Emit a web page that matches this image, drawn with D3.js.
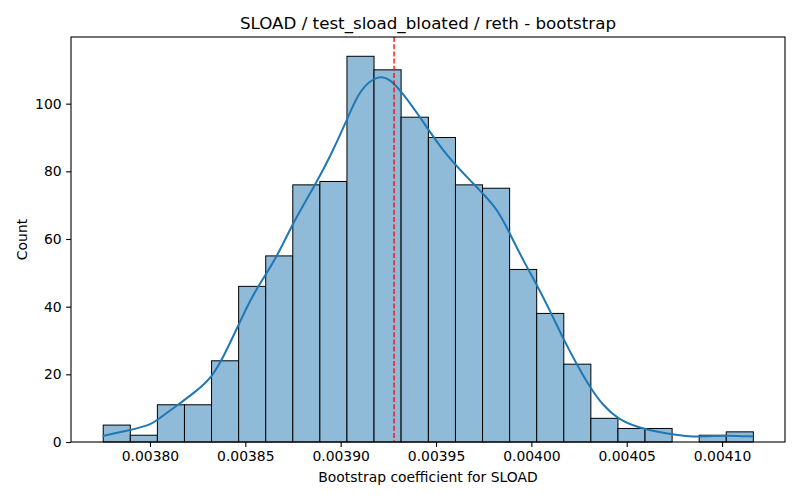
<!DOCTYPE html>
<html>
<head>
<meta charset="utf-8">
<script src="https://cdn.jsdelivr.net/npm/d3@7"></script>
<style>
  body { margin: 0; background: #fff; }
  text { font-family: "DejaVu Sans", sans-serif; fill: #000; }
</style>
</head>
<body>
<svg id="chart" width="800" height="500"></svg>
<script>
// histogram bins (edges) and counts
var binEdges = [0.0037755, 0.0037897, 0.0038039, 0.0038181, 0.0038323, 0.0038465,
  0.0038607, 0.0038749, 0.0038891, 0.0039033, 0.0039175, 0.0039317, 0.0039460,
  0.0039602, 0.0039744, 0.0039886, 0.0040028, 0.0040170, 0.0040312, 0.0040454,
  0.0040596, 0.0040738, 0.0040880, 0.0041022, 0.0041164];
var counts = [5, 2, 11, 11, 24, 46, 55, 76, 77, 114, 110, 96, 90, 76, 75, 51, 38, 23, 7, 4, 4, 0, 2, 3];

// kde curve (count units)
var kdeX = [0.0037752, 0.0037895, 0.0038000, 0.0038035, 0.0038140, 0.0038245, 0.0038324,
  0.0038384, 0.0038463, 0.0038524, 0.0038586, 0.0038665, 0.0038752, 0.0038865, 0.0038944,
  0.0039035, 0.0039101, 0.0039203, 0.0039259, 0.0039320, 0.0039416, 0.0039538, 0.0039678,
  0.0039818, 0.0039879, 0.0039958, 0.0040028, 0.0040098, 0.0040168, 0.0040238, 0.0040308,
  0.0040377, 0.0040456, 0.0040553, 0.0040675, 0.0040815, 0.0040920, 0.0041025, 0.0041164];
var kdeY = [1.8, 3.5, 5.0, 6.4, 10.7, 15.1, 19.1,
  25.0, 34.4, 41.8, 47.7, 54.6, 65.0, 75.9, 84.2,
  95.4, 104.5, 108.6, 107.2, 103.5, 96.1, 85.7, 77.3,
  69.4, 62.5, 53.6, 46.5, 38.8, 30.4, 23.0, 16.1,
  10.7, 6.7, 4.4, 2.8, 1.6, 1.6, 2.0, 1.6];

var meanValue = 0.003928;
var xTicks = [0.00380, 0.00385, 0.00390, 0.00395, 0.00400, 0.00405, 0.00410];
var yTicks = [0, 20, 40, 60, 80, 100];

var titleText = "SLOAD / test_sload_bloated / reth - bootstrap";
var xLabel = "Bootstrap coefficient for SLOAD";
var yLabel = "Count";

var margin = {top: 37, right: 15, bottom: 58, left: 71};
var width = 800 - margin.left - margin.right,
    height = 500 - margin.top - margin.bottom;

var svg = d3.select("#chart");
var g = svg.append("g").attr("transform", "translate(" + margin.left + "," + margin.top + ")");

var x = d3.scaleLinear().domain([0.0037586, 0.0041330]).range([0, width]);
var y = d3.scaleLinear().domain([0, 119.7]).range([height, 0]);

// bars
var bins = counts.map(function(c, i){ return {x0: binEdges[i], x1: binEdges[i+1], n: c}; });
g.selectAll("rect.bar")
  .data(bins.filter(function(d){ return d.n > 0; }))
  .enter().append("rect")
  .attr("class", "bar")
  .attr("x", function(d){ return x(d.x0); })
  .attr("width", function(d){ return x(d.x1) - x(d.x0); })
  .attr("y", function(d){ return y(d.n); })
  .attr("height", function(d){ return y(0) - y(d.n); })
  .attr("fill", "#8fbbd9")
  .attr("stroke", "#000")
  .attr("stroke-width", 1);

// kde
var line = d3.line()
  .x(function(d){ return x(d[0]); })
  .y(function(d){ return y(d[1]); })
  .curve(d3.curveBasis);
g.append("path")
  .datum(kdeX.map(function(v, i){ return [v, kdeY[i]]; }))
  .attr("d", line)
  .attr("fill", "none")
  .attr("stroke", "#1f77b4")
  .attr("stroke-width", 2);

// mean line
g.append("line")
  .attr("x1", x(meanValue)).attr("x2", x(meanValue))
  .attr("y1", 0).attr("y2", height)
  .attr("stroke", "red")
  .attr("stroke-width", 1.3)
  .attr("stroke-dasharray", "5,2.2");

// axes
var xAxis = g.append("g")
  .attr("transform", "translate(0," + height + ")")
  .call(d3.axisBottom(x).tickValues(xTicks).tickFormat(d3.format(".5f")).tickSizeOuter(0).tickSize(4.9).tickPadding(4.5));
var yAxis = g.append("g")
  .call(d3.axisLeft(y).tickValues(yTicks).tickSizeOuter(0).tickSize(4.9).tickPadding(4.5));

[xAxis, yAxis].forEach(function(a){
  a.select(".domain").remove();
  a.selectAll("line").attr("stroke", "#000").attr("stroke-width", 1.1);
  a.selectAll("text").style("font-size", "13.9px").style("font-family", "DejaVu Sans, sans-serif");
});

// frame
g.append("rect")
  .attr("x", 0).attr("y", 0).attr("width", width).attr("height", height)
  .attr("fill", "none").attr("stroke", "#000").attr("stroke-width", 1.1);

// labels
svg.append("text")
  .attr("x", margin.left + width / 2).attr("y", 29)
  .attr("text-anchor", "middle")
  .style("font-size", "16.7px")
  .text(titleText);

svg.append("text")
  .attr("x", margin.left + width / 2).attr("y", 482)
  .attr("text-anchor", "middle")
  .style("font-size", "13.9px")
  .text(xLabel);

svg.append("text")
  .attr("transform", "translate(27," + (margin.top + height / 2) + ") rotate(-90)")
  .attr("text-anchor", "middle")
  .style("font-size", "13.9px")
  .text(yLabel);
</script>
</body>
</html>
